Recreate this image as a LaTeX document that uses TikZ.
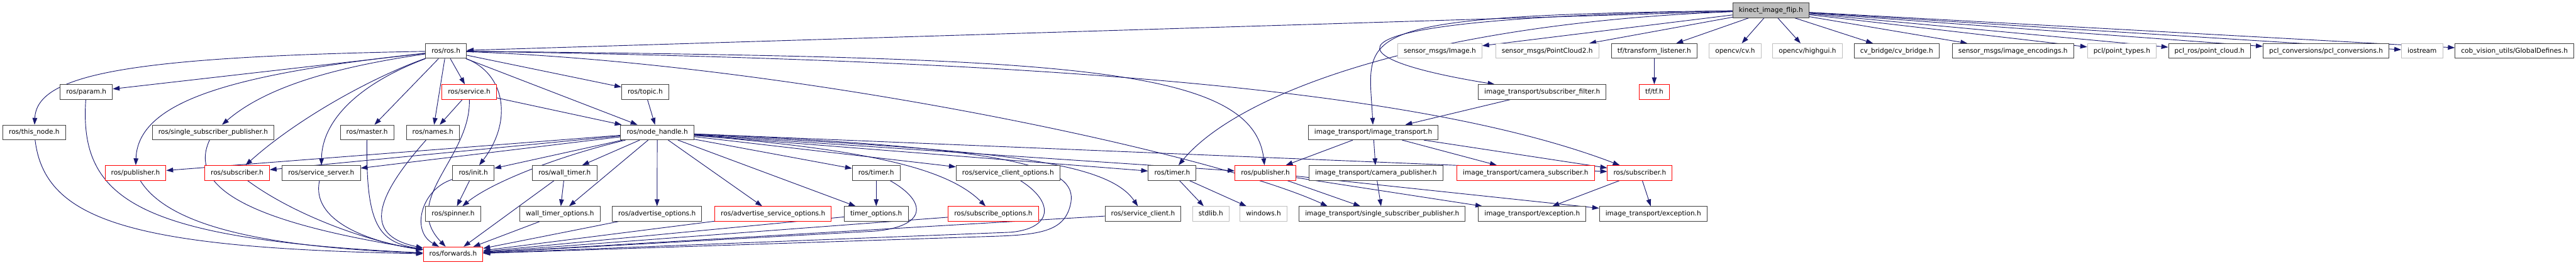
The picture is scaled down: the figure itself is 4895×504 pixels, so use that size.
\documentclass[tikz,border=0pt]{standalone}
\usepackage{fontspec}
\newfontfamily\dejavu{DejaVu Sans}
\usetikzlibrary{arrows.meta,backgrounds}
\definecolor{edgeblue}{RGB}{25,25,112}
\definecolor{boxline}{RGB}{64,64,64}
\definecolor{sysline}{RGB}{191,191,191}
\definecolor{mainfill}{RGB}{191,191,191}
\tikzset{
  file/.style={draw=boxline, line width=1.2pt, fill=white, font=\dejavu\fontsize{12.6}{14}\selectfont,
    minimum height=28pt, inner xsep=11.5pt, inner ysep=0pt, text height=9.5pt, text depth=2.5pt},
  redfile/.style={file, draw=red},
  sysfile/.style={file, draw=sysline},
  mainfile/.style={file, fill=mainfill},
  inc/.style={draw=edgeblue, line width=1.1pt, -{Triangle[length=13pt,width=9pt]}}
}
\begin{document}
\begin{tikzpicture}[x=1pt, y=1pt]
  \useasboundingbox (0,0) rectangle (4895,-504);
  % row 0
  \node[mainfile] (kin) at (3365,-19.5) {kinect\_image\_flip.h};
  % row 1
  \node[file] (ros) at (847.5,-97) {ros/ros.h};
  \node[sysfile] (smimg) at (2736,-97) {sensor\_msgs/Image.h};
  \node[sysfile] (smpc) at (2940,-97) {sensor\_msgs/PointCloud2.h};
  \node[file] (tfl) at (3143.5,-97) {tf/transform\_listener.h};
  \node[sysfile] (cv) at (3297,-97) {opencv/cv.h};
  \node[sysfile] (hg) at (3434.5,-97) {opencv/highgui.h};
  \node[file] (cvb) at (3604,-97) {cv\_bridge/cv\_bridge.h};
  \node[file] (enc) at (3825,-97) {sensor\_msgs/image\_encodings.h};
  \node[sysfile] (pt) at (4032,-97) {pcl/point\_types.h};
  \node[file] (pcr) at (4198.5,-97) {pcl\_ros/point\_cloud.h};
  \node[file] (pcc) at (4420,-97) {pcl\_conversions/pcl\_conversions.h};
  \node[sysfile] (ios) at (4602.5,-97) {iostream};
  \node[file] (cob) at (4778,-97) {cob\_vision\_utils/GlobalDefines.h};
  % row 2
  \node[file] (param) at (164,-175) {ros/param.h};
  \node[redfile] (service) at (891.5,-175) {ros/service.h};
  \node[file] (topic) at (1226,-175) {ros/topic.h};
  \node[file] (itsf) at (2930.5,-175) {image\_transport/subscriber\_filter.h};
  \node[redfile] (tf) at (3143.5,-175) {tf/tf.h};
  % row 3
  \node[file] (thisnode) at (65,-252) {ros/this\_node.h};
  \node[file] (ssp) at (405,-252) {ros/single\_subscriber\_publisher.h};
  \node[file] (master) at (697.5,-252) {ros/master.h};
  \node[file] (names) at (822.5,-252) {ros/names.h};
  \node[file] (nh) at (1249,-252) {ros/node\_handle.h};
  \node[file] (itit) at (2609.5,-252) {image\_transport/image\_transport.h};
  % row 4
  \node[redfile] (pub1) at (257.5,-329) {ros/publisher.h};
  \node[redfile] (sub1) at (450.5,-329) {ros/subscriber.h};
  \node[file] (srvsrv) at (610.5,-329) {ros/service\_server.h};
  \node[file] (init) at (899.5,-329) {ros/init.h};
  \node[file] (wt) at (1073,-329) {ros/wall\_timer.h};
  \node[file] (timer1) at (1665,-329) {ros/timer.h};
  \node[file] (sco) at (1915.5,-329) {ros/service\_client\_options.h};
  \node[file] (timer2) at (2227.5,-329) {ros/timer.h};
  \node[redfile] (pub2) at (2404.5,-329) {ros/publisher.h};
  \node[file] (itcp) at (2614.5,-329) {image\_transport/camera\_publisher.h};
  \node[redfile] (itcs) at (2899,-329) {image\_transport/camera\_subscriber.h};
  \node[redfile] (sub2) at (3116,-329) {ros/subscriber.h};
  % row 5
  \node[file] (spinner) at (861,-407) {ros/spinner.h};
  \node[file] (wto) at (1064,-407) {wall\_timer\_options.h};
  \node[file] (ao) at (1248.5,-407) {ros/advertise\_options.h};
  \node[redfile] (aso) at (1469,-407) {ros/advertise\_service\_options.h};
  \node[file] (to) at (1665,-407) {timer\_options.h};
  \node[redfile] (so) at (1887.5,-407) {ros/subscribe\_options.h};
  \node[file] (sc) at (2172,-407) {ros/service\_client.h};
  \node[sysfile] (stdlib) at (2301,-407) {stdlib.h};
  \node[sysfile] (win) at (2401,-407) {windows.h};
  \node[file] (itssp) at (2626.5,-407) {image\_transport/single\_subscriber\_publisher.h};
  \node[file] (itex1) at (2911.5,-407) {image\_transport/exception.h};
  \node[file] (itex2) at (3141.5,-407) {image\_transport/exception.h};
  % row 6
  \node[redfile] (fwd) at (861,-484) {ros/forwards.h};

  \begin{scope}[on background layer]
    \fill[white] (0,0) rectangle (4895,-504);
    % kinect_image_flip.h
    \draw[inc] (kin) -- (ros);
    \draw[inc] (kin) -- (smimg);
    \draw[inc] (kin) -- (smpc);
    \draw[inc] (kin) -- (tfl);
    \draw[inc] (kin) -- (cv);
    \draw[inc] (kin) -- (hg);
    \draw[inc] (kin) -- (cvb);
    \draw[inc] (kin) -- (enc);
    \draw[inc] (kin) -- (pt);
    \draw[inc] (kin) -- (pcr);
    \draw[inc] (kin) -- (pcc);
    \draw[inc] (kin) -- (ios);
    \draw[inc] (kin) -- (cob);
    \draw[inc] (kin) .. controls (2450,-35) and (2534,-111) .. (itsf);
    \draw[inc] (kin) .. controls (2550,-30) and (2600,-60) .. (itit);
    \draw[inc] (kin) .. controls (2700,-45) and (2350,-180) .. (timer2);
    % ros/ros.h
    \draw[inc] (ros) .. controls (250,-108) and (70,-140) .. (thisnode);
    \draw[inc] (ros) -- (param);
    \draw[inc] (ros) .. controls (620,-130) and (500,-170) .. (ssp);
    \draw[inc] (ros) .. controls (450,-140) and (262,-190) .. (pub1);
    \draw[inc] (ros) .. controls (700,-150) and (560,-230) .. (sub1);
    \draw[inc] (ros) .. controls (680,-160) and (612,-230) .. (srvsrv);
    \draw[inc] (ros) -- (master);
    \draw[inc] (ros) -- (names);
    \draw[inc] (ros) -- (service);
    \draw[inc] (ros) .. controls (960,-140) and (975,-230) .. (init);
    \draw[inc] (ros) -- (nh);
    \draw[inc] (ros) -- (topic);
    \draw[inc] (ros) .. controls (2000,-110) and (2380,-120) .. (pub2);
    \draw[inc] (ros) .. controls (2000,-115) and (2700,-170) .. (sub2);
    \draw[inc] (ros) .. controls (1500,-120) and (2300,-290) .. (itssp.172);
    % ros/service.h, ros/topic.h
    \draw[inc] (service) -- (names);
    \draw[inc] (service) .. controls (895,-300) and (760,-380) .. (fwd);
    \draw[inc] (service) -- (nh);
    \draw[inc] (topic) -- (nh);
    % into ros/forwards.h
    \draw[inc] (thisnode) .. controls (85,-420) and (250,-472) .. (fwd);
    \draw[inc] (param) .. controls (150,-380) and (260,-455) .. (fwd);
    \draw[inc] (pub1) .. controls (320,-430) and (500,-470) .. (fwd);
    \draw[inc] (ssp) .. controls (350,-370) and (520,-430) .. (fwd);
    \draw[inc] (sub1) .. controls (560,-410) and (700,-460) .. (fwd);
    \draw[inc] (srvsrv) .. controls (590,-420) and (700,-460) .. (fwd);
    \draw[inc] (master) .. controls (695,-430) and (720,-460) .. (fwd);
    \draw[inc] (names) .. controls (700,-390) and (700,-450) .. (fwd);
    \draw[inc] (init) .. controls (800,-360) and (780,-440) .. (fwd);
    \draw[inc] (init) -- (spinner);
    \draw[inc] (wt) -- (wto);
    \draw[inc] (wt) -- (fwd);
    \draw[inc] (wto) -- (fwd);
    \draw[inc] (ao) -- (fwd);
    \draw[inc] (aso) -- (fwd);
    \draw[inc] (to) -- (fwd);
    \draw[inc] (so) -- (fwd);
    \draw[inc] (sc) -- (fwd);
    \draw[inc] (sco) .. controls (2005,-385) and (2000,-435) .. (1920,-442) -- (fwd);
    \draw[inc] (timer1) -- (to);
    \draw[inc] (timer1) .. controls (1765,-385) and (1760,-432) .. (1660,-440) -- (fwd);
    % ros/node_handle.h
    \draw[inc] (nh) -- (pub1);
    \draw[inc] (nh) -- (sub1);
    \draw[inc] (nh) -- (srvsrv);
    \draw[inc] (nh) -- (init);
    \draw[inc] (nh) .. controls (1050,-300) and (930,-350) .. (spinner);
    \draw[inc] (nh) -- (wt);
    \draw[inc] (nh) -- (wto);
    \draw[inc] (nh) -- (ao);
    \draw[inc] (nh) -- (aso);
    \draw[inc] (nh) -- (to);
    \draw[inc] (nh) -- (timer1);
    \draw[inc] (nh) -- (sco);
    \draw[inc] (nh) .. controls (1650,-285) and (1800,-320) .. (so);
    \draw[inc] (nh) .. controls (1850,-285) and (2100,-300) .. (sc);
    \draw[inc] (nh) -- (timer2);
    \draw[inc] (nh) -- (pub2);
    \draw[inc] (nh) -- (sub2);
    \draw[inc] (nh) .. controls (1950,-282) and (2045,-320) .. (2035,-385)
      .. controls (2025,-440) and (1980,-447) .. (1880,-450) -- (fwd);
    % image_transport
    \draw[inc] (itsf) -- (itit);
    \draw[inc] (itit) -- (pub2);
    \draw[inc] (itit) -- (itcp);
    \draw[inc] (itit) -- (itcs);
    \draw[inc] (itit) -- (sub2);
    \draw[inc] (pub2) -- (itssp);
    \draw[inc] (pub2) -- (itex1);
    \draw[inc] (pub2) -- (itex2);
    \draw[inc] (itcp) -- (itssp);
    \draw[inc] (sub2) -- (itex1);
    \draw[inc] (sub2) -- (itex2);
    \draw[inc] (tfl) -- (tf);
    \draw[inc] (timer2) -- (stdlib);
    \draw[inc] (timer2) -- (win);
  \end{scope}
\end{tikzpicture}
\end{document}
